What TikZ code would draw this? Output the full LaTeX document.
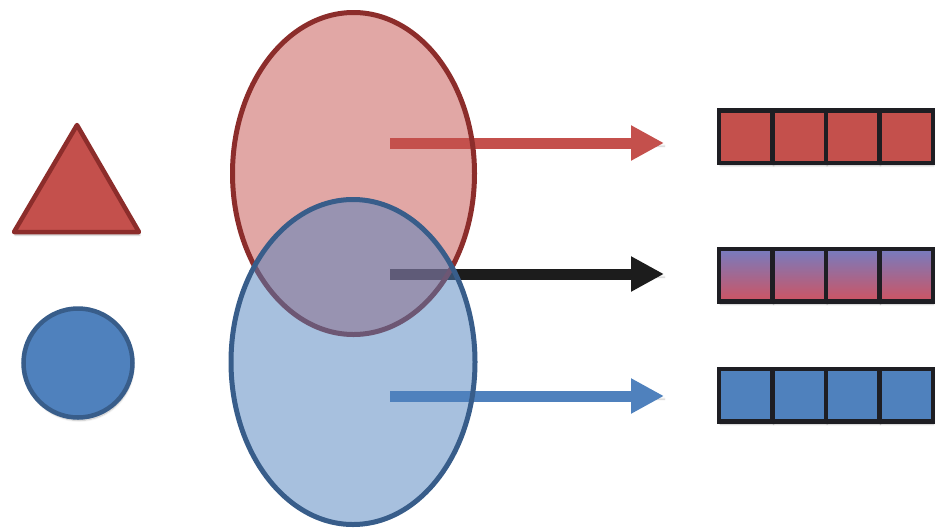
\documentclass[tikz,border=0pt]{standalone}
\usetikzlibrary{arrows.meta,shapes.geometric,shadows.blur}
\definecolor{redf}{RGB}{196,80,76}
\definecolor{redd}{RGB}{140,45,43}
\definecolor{bluef}{RGB}{79,129,189}
\definecolor{blued}{RGB}{56,93,138}
\definecolor{gtop}{RGB}{118,124,192}
\definecolor{gbot}{RGB}{206,84,98}
\definecolor{barline}{RGB}{30,30,35}
\definecolor{arrblack}{RGB}{28,28,28}
\begin{document}
\begin{tikzpicture}[x=1pt,y=-1pt,
  shad/.style={blur shadow={shadow xshift=1pt, shadow yshift=-3pt, shadow opacity=25, shadow blur steps=6}},
  cell/.style={draw=barline, line width=4.5pt, minimum width=53.4pt, minimum height=52.5pt, inner sep=0pt, outer sep=0pt, shad},
  redcell/.style={cell, fill=redf},
  bluecell/.style={cell, fill=bluef},
  mixcell/.style={cell, top color=gtop, bottom color=gbot},
  arr/.style={line width=11pt, -{Triangle[width=33pt,length=33pt]}, shad},
  venn/.style={ellipse, line width=5pt, fill opacity=0.5, inner sep=0pt},
  tristyle/.style={draw=redd, fill=redf, line width=4.5pt, line join=round, shad},
]
\useasboundingbox (0,0) rectangle (939,531);
% left shapes
\coordinate (tapex) at (77,125);
\coordinate (tright) at (139,232);
\coordinate (tleft) at (14,232);
\draw[tristyle] (tapex) -- (tright) -- (tleft) -- cycle;
\node[circle, minimum size=109pt, inner sep=0pt, draw=blued, fill=bluef, line width=4.5pt, shad] (circ) at (78,363) {};
% arrows (below the ellipses)
\coordinate (ra) at (390,143); \coordinate (rb) at (664,143);
\coordinate (ma) at (390,274); \coordinate (mb) at (664,274);
\coordinate (ba) at (390,396); \coordinate (bb) at (664,396);
\draw[arr, draw=redf, fill=redf] (ra) -- (rb);
\draw[arr, draw=arrblack, fill=arrblack] (ma) -- (mb);
\draw[arr, draw=bluef, fill=bluef] (ba) -- (bb);
% ellipses
\node[venn, draw=redd, fill=redf, minimum width=242pt, minimum height=322pt] (redE) at (353.5,173.5) {};
\node[venn, draw=blued, fill=bluef, minimum width=244pt, minimum height=325pt] (blueE) at (353,362) {};
% bars
\foreach \i in {0,1,2,3}{
  \node[redcell]  (r\i) at ({719.25+53.375*(\i+0.5)},136.5) {};
  \node[mixcell]  (m\i) at ({719.25+53.375*(\i+0.5)},275) {};
  \node[bluecell] (b\i) at ({719.25+53.375*(\i+0.5)},395) {};
}
\end{tikzpicture}
\end{document}
